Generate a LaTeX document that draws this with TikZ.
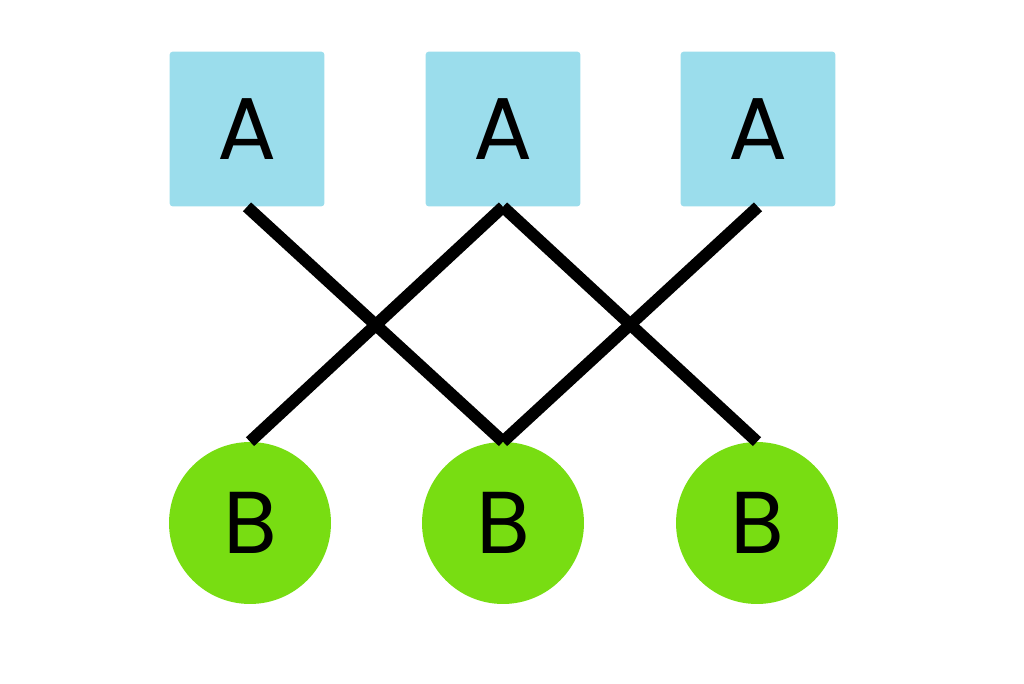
\documentclass[tikz,border=0pt]{standalone}
\usepackage{fontspec}
\setmainfont{Poppins}
\usetikzlibrary{positioning}
\definecolor{boxblue}{RGB}{155,221,236}
\definecolor{ballgreen}{RGB}{120,221,18}
\tikzset{
	topnode/.style={rectangle, fill=boxblue, rounded corners=2pt, minimum size=3.1cm, inner sep=0pt, font=\fontsize{50}{50}\selectfont},
	botnode/.style={circle, fill=ballgreen, minimum size=3.24cm, inner sep=0pt, font=\fontsize{50}{50}\selectfont},
	link/.style={line width=0.24cm}
}
\begin{document}
\begin{tikzpicture}[x=0.02cm,y=-0.02cm]
	\useasboundingbox (0,0) rectangle (1024,683);
	\node[topnode] at (247,129) (A1) {A};
	\node[topnode] at (503,129) (A2) {A};
	\node[topnode] at (758,129) (A3) {A};
	\node[botnode] at (250,523) (B1) {B};
	\node[botnode] at (503,523) (B2) {B};
	\node[botnode] at (757,523) (B3) {B};
	% links
	\draw[link] (A1.south) -- (B2.north);
	\draw[link] (A2.south) -- (B1.north);
	\draw[link] (A2.south) -- (B3.north);
	\draw[link] (A3.south) -- (B2.north);
\end{tikzpicture}
\end{document}
